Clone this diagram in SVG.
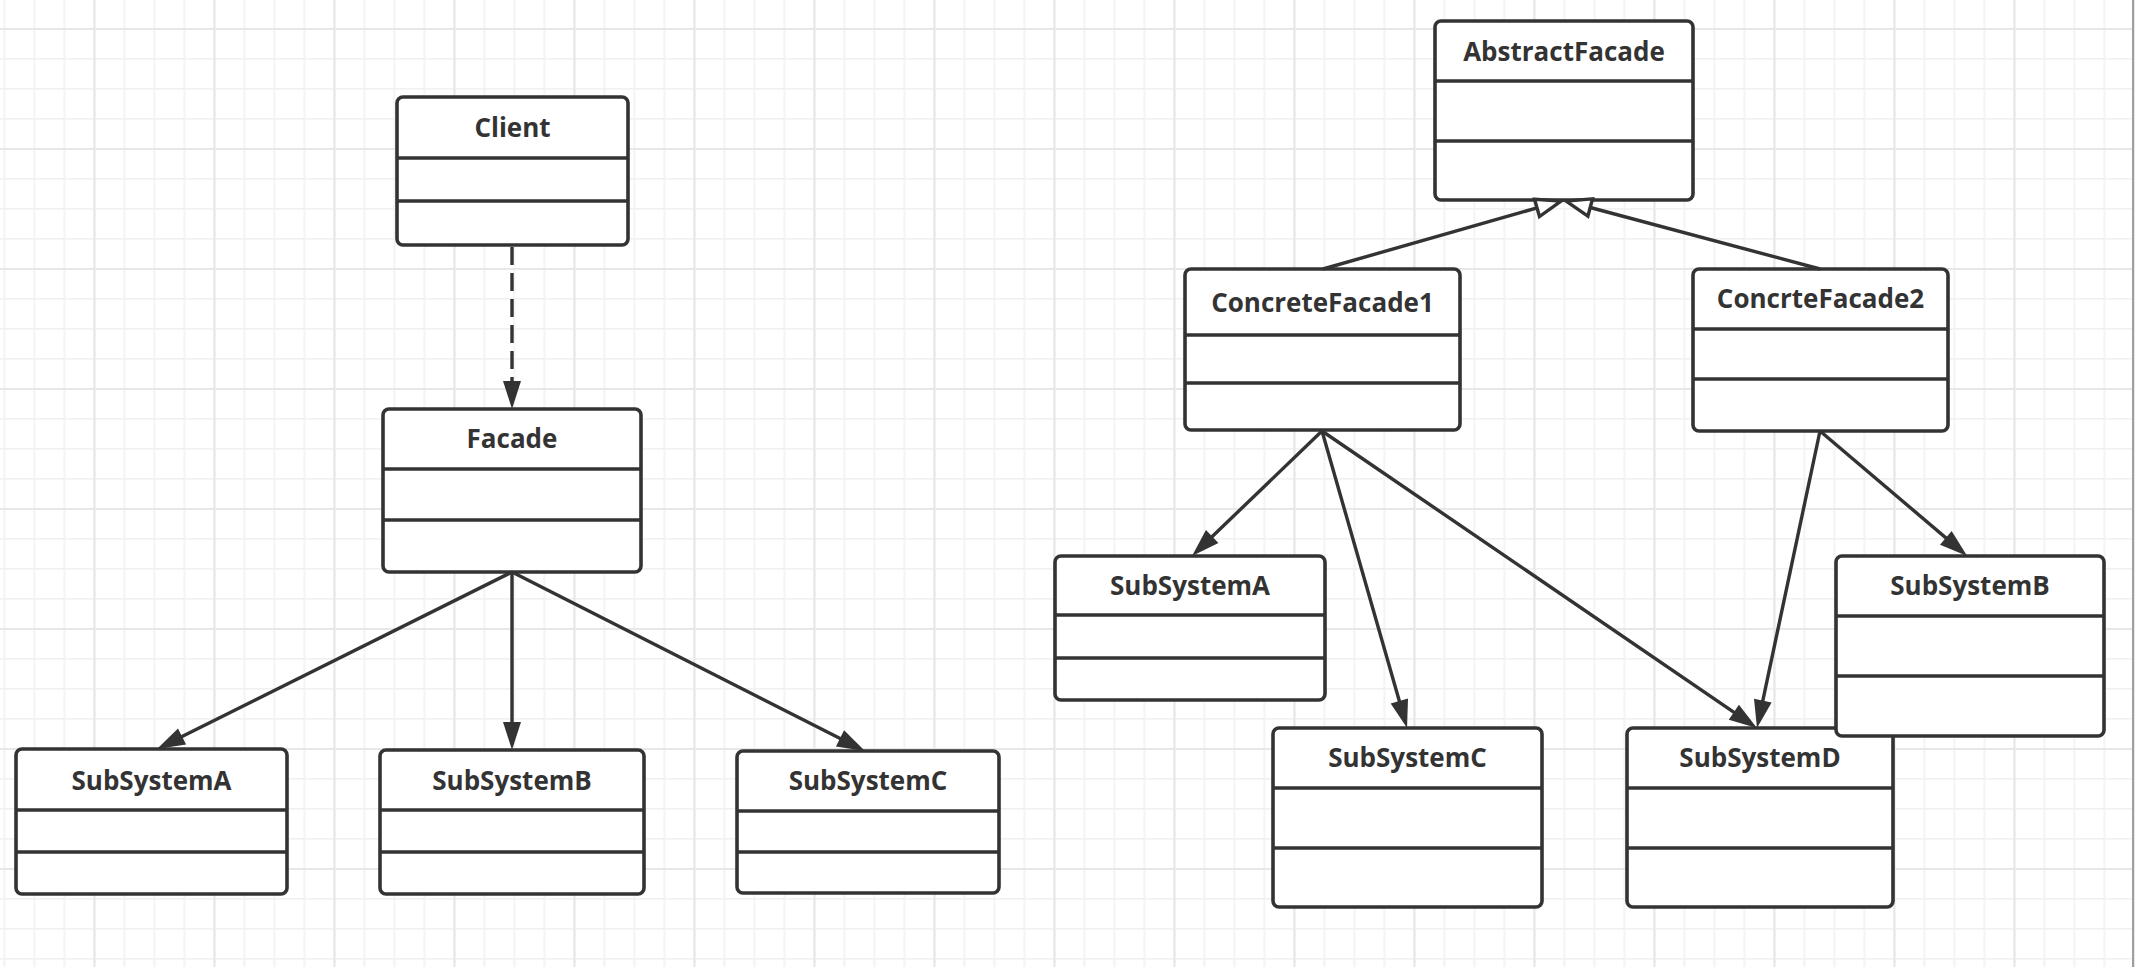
<svg xmlns="http://www.w3.org/2000/svg" width="2135" height="967" viewBox="0 0 2135 967">
<style>
.box{fill:#fff;stroke:#333;stroke-width:3.6}
.div{stroke:#333;stroke-width:3.4}
.lbl{font-family:"Open Sans","Liberation Sans",Arial,sans-serif;font-weight:bold;font-size:26px;fill:#333;text-anchor:middle}
.conn{stroke:#333;stroke-width:3.4;fill:none}
.dash{stroke-dasharray:18 8}
</style>
<defs>
<pattern id="minor" patternUnits="userSpaceOnUse" x="3.5" y="28" width="30" height="30">
<rect x="0" y="0" width="30" height="1.6" fill="#f1f1f1"/>
<rect x="0" y="0" width="1.6" height="30" fill="#f1f1f1"/>
</pattern>
<pattern id="major" patternUnits="userSpaceOnUse" x="93.5" y="28" width="120" height="120">
<rect x="0" y="0" width="120" height="1.8" fill="#e6e6e6"/>
<rect x="0" y="0" width="1.8" height="120" fill="#e6e6e6"/>
</pattern>
<marker id="arrow" markerUnits="userSpaceOnUse" viewBox="0 0 28 18" markerWidth="28" markerHeight="18" refX="14" refY="9" orient="auto" overflow="visible">
<path d="M0,0 L28,9 L0,18 Z" fill="#333"/>
</marker>
<marker id="inherit" markerUnits="userSpaceOnUse" viewBox="0 0 25 18" markerWidth="25" markerHeight="18" refX="0" refY="9" orient="auto" overflow="visible">
<path d="M0,0 L25,9 L0,18 Z" fill="#fff" stroke="#333" stroke-width="3.4" stroke-linejoin="miter"/>
</marker>
</defs>
<rect x="0" y="0" width="2135" height="967" fill="#fff"/>
<rect x="0" y="0" width="2135" height="967" fill="url(#minor)"/>
<rect x="0" y="0" width="2135" height="967" fill="url(#major)"/>
<rect x="2132" y="0" width="2" height="967" fill="#9f9f9f"/>

<g id="client">
<rect class="box" x="397" y="97" width="231" height="148" rx="6"/>
<line class="div" x1="397" y1="158" x2="628" y2="158"/>
<line class="div" x1="397" y1="201" x2="628" y2="201"/>
<text class="lbl" x="512.5" y="137">Client</text>
</g>
<g id="facade">
<rect class="box" x="383" y="409" width="258" height="163" rx="6"/>
<line class="div" x1="383" y1="469" x2="641" y2="469"/>
<line class="div" x1="383" y1="520" x2="641" y2="520"/>
<text class="lbl" x="512" y="448">Facade</text>
</g>
<g id="subsystemA-left">
<rect class="box" x="16" y="749" width="271" height="145" rx="6"/>
<line class="div" x1="16" y1="810" x2="287" y2="810"/>
<line class="div" x1="16" y1="852" x2="287" y2="852"/>
<text class="lbl" x="151.5" y="790">SubSystemA</text>
</g>
<g id="subsystemB-left">
<rect class="box" x="380" y="750" width="264" height="144" rx="6"/>
<line class="div" x1="380" y1="810" x2="644" y2="810"/>
<line class="div" x1="380" y1="852" x2="644" y2="852"/>
<text class="lbl" x="512" y="790">SubSystemB</text>
</g>
<g id="subsystemC-left">
<rect class="box" x="737" y="751" width="262" height="142" rx="6"/>
<line class="div" x1="737" y1="811" x2="999" y2="811"/>
<line class="div" x1="737" y1="852" x2="999" y2="852"/>
<text class="lbl" x="868" y="790">SubSystemC</text>
</g>

<g id="abstractfacade">
<rect class="box" x="1435" y="21" width="258" height="179" rx="6"/>
<line class="div" x1="1435" y1="81" x2="1693" y2="81"/>
<line class="div" x1="1435" y1="141" x2="1693" y2="141"/>
<text class="lbl" x="1564" y="61">AbstractFacade</text>
</g>
<g id="concretefacade1">
<rect class="box" x="1185" y="269" width="275" height="161" rx="6"/>
<line class="div" x1="1185" y1="335" x2="1460" y2="335"/>
<line class="div" x1="1185" y1="383" x2="1460" y2="383"/>
<text class="lbl" x="1322.5" y="312">ConcreteFacade1</text>
</g>
<g id="concrtefacade2">
<rect class="box" x="1693" y="269" width="255" height="162" rx="6"/>
<line class="div" x1="1693" y1="329" x2="1948" y2="329"/>
<line class="div" x1="1693" y1="379" x2="1948" y2="379"/>
<text class="lbl" x="1820.5" y="308">ConcrteFacade2</text>
</g>
<g id="subsystemA-right">
<rect class="box" x="1055" y="556" width="270" height="144" rx="6"/>
<line class="div" x1="1055" y1="615" x2="1325" y2="615"/>
<line class="div" x1="1055" y1="658" x2="1325" y2="658"/>
<text class="lbl" x="1190" y="595">SubSystemA</text>
</g>
<g id="subsystemC-right">
<rect class="box" x="1273" y="728" width="269" height="179" rx="6"/>
<line class="div" x1="1273" y1="788" x2="1542" y2="788"/>
<line class="div" x1="1273" y1="848" x2="1542" y2="848"/>
<text class="lbl" x="1407.5" y="767">SubSystemC</text>
</g>
<g id="subsystemD">
<rect class="box" x="1627" y="728" width="266" height="179" rx="6"/>
<line class="div" x1="1627" y1="788" x2="1893" y2="788"/>
<line class="div" x1="1627" y1="848" x2="1893" y2="848"/>
<text class="lbl" x="1760" y="767">SubSystemD</text>
</g>
<g id="subsystemB-right">
<rect class="box" x="1836" y="556" width="268" height="180" rx="6"/>
<line class="div" x1="1836" y1="616" x2="2104" y2="616"/>
<line class="div" x1="1836" y1="676" x2="2104" y2="676"/>
<text class="lbl" x="1970" y="595">SubSystemB</text>
</g>

<g id="connectors">
<line class="conn dash" x1="512" y1="247" x2="512" y2="395" marker-end="url(#arrow)"/>
<line class="conn" x1="512" y1="572" x2="169.5" y2="742.8" marker-end="url(#arrow)"/>
<line class="conn" x1="512" y1="572" x2="512" y2="736" marker-end="url(#arrow)"/>
<line class="conn" x1="512" y1="572" x2="852.5" y2="744.7" marker-end="url(#arrow)"/>
<line class="conn" x1="1322" y1="431" x2="1202.1" y2="546.3" marker-end="url(#arrow)"/>
<line class="conn" x1="1322" y1="431" x2="1403.2" y2="714.5" marker-end="url(#arrow)"/>
<line class="conn" x1="1322" y1="431" x2="1745.4" y2="720.1" marker-end="url(#arrow)"/>
<line class="conn" x1="1820" y1="431" x2="1759.9" y2="714.3" marker-end="url(#arrow)"/>
<line class="conn" x1="1820" y1="431" x2="1956.5" y2="546.9" marker-end="url(#arrow)"/>
<line class="conn" x1="1323" y1="269" x2="1537" y2="207.9" marker-end="url(#inherit)"/>
<line class="conn" x1="1820" y1="269" x2="1590.2" y2="207.5" marker-end="url(#inherit)"/>
</g>
</svg>
